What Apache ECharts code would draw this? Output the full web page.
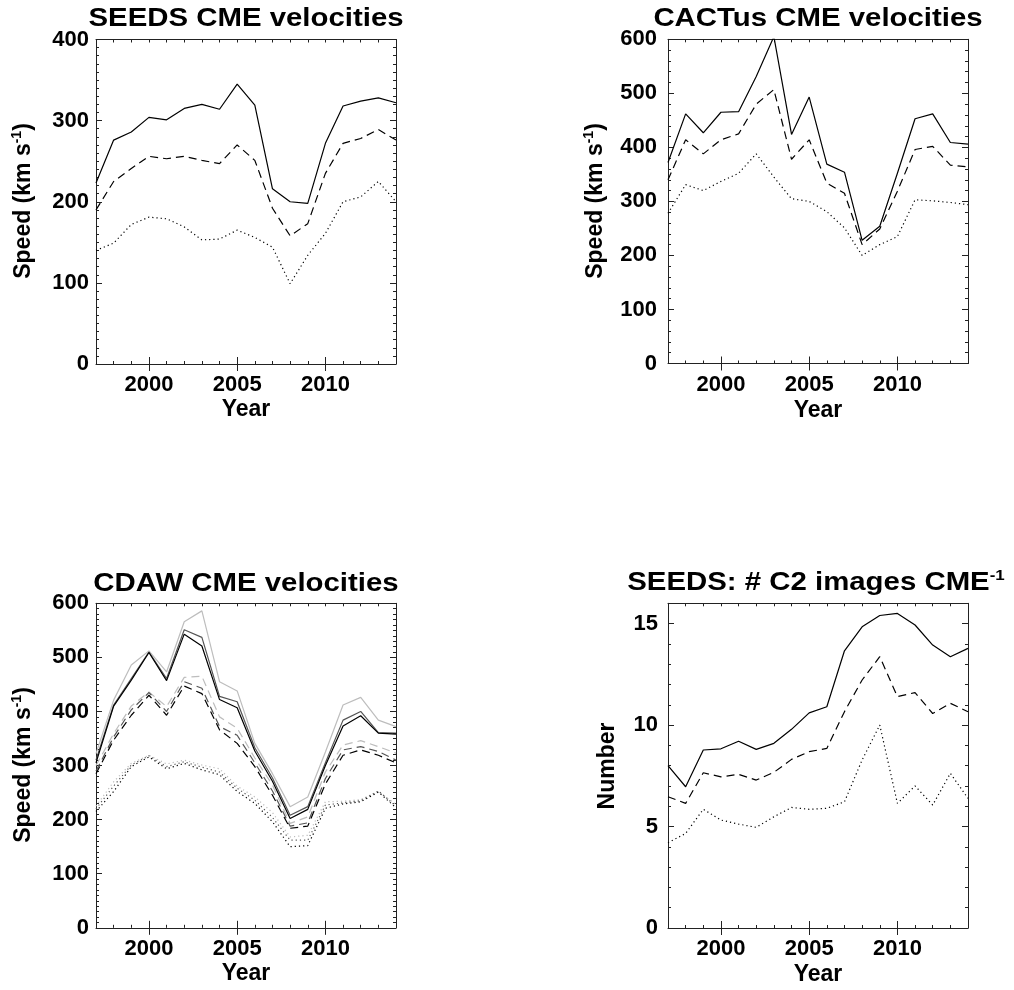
<!DOCTYPE html>
<html>
<head>
<meta charset="utf-8">
<script src="https://cdn.jsdelivr.net/npm/echarts@6/dist/echarts.min.js"></script>
<style>
html,body{margin:0;padding:0;background:#fff;}
#chart{width:1014px;height:990px;}
</style>
</head>
<body>
<div id="chart"></div>
<script>
// ---------------- data ----------------
var years = [1997,1998,1999,2000,2001,2002,2003,2004,2005,2006,2007,2008,2009,2010,2011,2012,2013,2014];
var xTickLabels = [2000,2005,2010];

// SEEDS CME velocities
var seedsSolid  = [223,276,286,304,301,315,320,314,345,319,216,200,198,272,318,324,328,322];
var seedsDashed = [190,225,241,256,253,256,251,247,270,251,192,158,173,235,272,278,289,276];
var seedsDotted = [140,149,172,181,179,169,153,154,165,156,144,99,134,161,200,206,225,200];

// CACTus CME velocities
var cactusSolid  = [372,462,427,465,466,531,605,424,493,369,354,228,254,352,453,462,409,406];
var cactusDashed = [340,414,388,414,425,480,507,378,414,334,315,220,249,319,396,402,367,364];
var cactusDotted = [278,331,320,337,352,388,345,305,300,281,251,200,220,235,303,301,298,294];

// CDAW CME velocities (light grey, dark grey, black versions)
var cdawSolidLight  = [322,421,486,512,473,566,586,455,438,341,285,224,242,325,412,426,384,372];
var cdawSolidDark   = [310,412,461,510,461,551,537,428,418,333,277,208,224,305,384,400,361,360];
var cdawSolidBlack  = [305,410,458,509,457,543,521,422,407,327,271,202,219,300,373,392,360,358];
var cdawDashedLight = [300,359,410,436,409,463,465,390,369,314,264,193,205,288,338,346,335,323];
var cdawDashedDark  = [290,353,403,435,400,455,443,372,356,305,253,188,194,276,329,335,326,310];
var cdawDashedBlack = [285,347,393,430,393,447,433,366,341,298,245,184,188,266,319,329,319,305];
var cdawDottedLight = [225,270,304,319,303,310,301,294,262,242,213,168,171,233,234,237,252,228];
var cdawDottedDark  = [220,262,301,318,298,307,297,288,258,236,204,162,162,227,231,235,253,225];
var cdawDottedBlack = [215,252,298,316,294,304,292,283,252,230,196,150,152,221,229,233,251,222];

// SEEDS: number of C2 images per CME
var imgSolid  = [8.0,6.96,8.77,8.83,9.2,8.8,9.1,9.79,10.6,10.9,13.66,14.84,15.4,15.5,14.93,13.94,13.37,13.78];
var imgDashed = [6.47,6.14,7.65,7.45,7.57,7.29,7.67,8.31,8.69,8.85,10.66,12.22,13.37,11.4,11.6,10.57,11.07,10.66];
var imgDotted = [4.2,4.66,5.85,5.32,5.12,4.96,5.48,5.94,5.85,5.9,6.22,8.28,10.0,6.14,7.0,6.06,7.62,6.39];

var speedTicks400 = [0,100,200,300,400];
var speedTicks600 = [0,100,200,300,400,500,600];
var numberTicks = [0,5,10,15];

// ---------------- layout / styles ----------------
var FONT = 'Liberation Sans, Arial, Helvetica, sans-serif';
var AX = '#222';
var grids = [
  {left:96,  top:39.5, width:300, height:324.5},
  {left:668, top:39.3, width:300, height:324.2},
  {left:96,  top:603.3,width:300, height:324.5},
  {left:668, top:603.3,width:300, height:324.7}
];
var panelY = [
  {max:400, minor:10, majors:speedTicks400, margin:7},
  {max:600, minor:20, majors:speedTicks600, margin:11},
  {max:600, minor:10, majors:speedTicks600, margin:7},
  {max:16,  minor:1,  majors:numberTicks,   margin:10}
];

var xAxes = [], yAxes = [];
panelY.forEach(function(p, g){
  var xBase = {gridIndex:g, type:'value', min:1997, max:2014, interval:1,
    splitLine:{show:false}, axisLine:{show:true, onZero:false, lineStyle:{color:AX, width:1}}};
  // bottom minor + labels
  xAxes.push(Object.assign({}, xBase, {position:'bottom',
    axisTick:{show:true, inside:true, length:3, lineStyle:{color:AX}},
    axisLabel:{show:true, customValues:xTickLabels, margin:10, color:'#000', fontSize:22, fontWeight:'bold', fontFamily:FONT,
      formatter:function(v){ return v % 5 === 0 ? String(v) : ''; }}}));
  // bottom majors
  xAxes.push(Object.assign({}, xBase, {position:'bottom', axisLine:{show:false},
    axisTick:{show:true, inside:true, length:7, customValues:xTickLabels, lineStyle:{color:AX}},
    axisLabel:{show:false}}));
  // top minor
  xAxes.push(Object.assign({}, xBase, {position:'top',
    axisTick:{show:true, inside:true, length:3, lineStyle:{color:AX}}, axisLabel:{show:false}}));
  // top majors
  xAxes.push(Object.assign({}, xBase, {position:'top', axisLine:{show:false},
    axisTick:{show:true, inside:true, length:7, customValues:xTickLabels, lineStyle:{color:AX}},
    axisLabel:{show:false}}));

  var majorStep = p.majors[1] - p.majors[0];
  var yBase = {gridIndex:g, type:'value', min:0, max:p.max, interval:p.minor,
    splitLine:{show:false}, axisLine:{show:true, onZero:false, lineStyle:{color:AX, width:1}}};
  yAxes.push(Object.assign({}, yBase, {position:'left',
    axisTick:{show:true, inside:true, length:3, lineStyle:{color:AX}},
    axisLabel:{show:true, customValues:p.majors, margin:p.margin, color:'#000', fontSize:22, fontWeight:'bold', fontFamily:FONT,
      formatter:function(v){ return (v % majorStep === 0 && v <= p.majors[p.majors.length-1]) ? String(v) : ''; }}}));
  yAxes.push(Object.assign({}, yBase, {position:'left', axisLine:{show:false},
    axisTick:{show:true, inside:true, length:6, customValues:p.majors, lineStyle:{color:AX}},
    axisLabel:{show:false}}));
  yAxes.push(Object.assign({}, yBase, {position:'right',
    axisTick:{show:true, inside:true, length:3, lineStyle:{color:AX}}, axisLabel:{show:false}}));
  yAxes.push(Object.assign({}, yBase, {position:'right', axisLine:{show:false},
    axisTick:{show:true, inside:true, length:6, customValues:p.majors, lineStyle:{color:AX}},
    axisLabel:{show:false}}));
});

function pts(vals){ return years.map(function(y,i){ return [y, vals[i]]; }); }
var DASH = [8,5], DOT = [1.2,3];
function line(g, vals, color, type){
  return {type:'line', xAxisIndex:g*4, yAxisIndex:g*4, data:pts(vals), symbol:'none', showSymbol:false,
    clip:true, silent:true, lineStyle:{color:color, width:1.2, type:type}};
}
var LIGHT = '#bdbdbd', DARK = '#555555', BLACK = '#000000';
var series = [
  line(0, seedsSolid, BLACK, 'solid'), line(0, seedsDashed, BLACK, DASH), line(0, seedsDotted, BLACK, DOT),
  line(1, cactusSolid, BLACK, 'solid'), line(1, cactusDashed, BLACK, DASH), line(1, cactusDotted, BLACK, DOT),
  line(2, cdawSolidLight, LIGHT, 'solid'), line(2, cdawDashedLight, LIGHT, DASH), line(2, cdawDottedLight, LIGHT, DOT),
  line(2, cdawSolidDark, DARK, 'solid'), line(2, cdawDashedDark, DARK, DASH), line(2, cdawDottedDark, DARK, DOT),
  line(2, cdawSolidBlack, BLACK, 'solid'), line(2, cdawDashedBlack, BLACK, DASH), line(2, cdawDottedBlack, BLACK, DOT),
  line(3, imgSolid, BLACK, 'solid'), line(3, imgDashed, BLACK, DASH), line(3, imgDotted, BLACK, DOT)
];

// ---------------- texts ----------------
var rich = {
  n:{fontSize:26, fontWeight:'bold', fontFamily:FONT, color:'#000', lineHeight:30},
  s:{fontSize:15, fontWeight:'bold', fontFamily:FONT, color:'#000', lineHeight:15, verticalAlign:'top'},
  a:{fontSize:23, fontWeight:'bold', fontFamily:FONT, color:'#000', lineHeight:27},
  b:{fontSize:14, fontWeight:'bold', fontFamily:FONT, color:'#000', lineHeight:14, verticalAlign:'top'}
};
function txt(x, y, text, opts){
  opts = opts || {};
  return {type:'text', x:x, y:y, rotation:opts.rot || 0, scaleX:opts.sx || 1, silent:true,
    style:{text:text, rich:rich, textAlign:'center', textVerticalAlign:'middle', align:'center', verticalAlign:'middle'}};
}
var titles = [
  txt(246, 19, '{n|SEEDS CME velocities}', {sx:1.13}),
  txt(818, 19, '{n|CACTus CME velocities}', {sx:1.13}),
  txt(246, 584, '{n|CDAW CME velocities}', {sx:1.13}),
  txt(816, 583, '{n|SEEDS: # C2 images CME}{s|-1}', {sx:1.13}),
  txt(246, 410, '{a|Year}'),
  txt(818, 411, '{a|Year}'),
  txt(246, 974, '{a|Year}'),
  txt(818, 975, '{a|Year}'),
  txt(24, 201, '{a|Speed (km s}{b|-1}{a|)}', {rot:Math.PI/2}),
  txt(596, 201, '{a|Speed (km s}{b|-1}{a|)}', {rot:Math.PI/2}),
  txt(24, 765, '{a|Speed (km s}{b|-1}{a|)}', {rot:Math.PI/2}),
  txt(608, 766, '{a|Number}', {rot:Math.PI/2})
];

var chart = echarts.init(document.getElementById('chart'), null, {renderer:'canvas'});
chart.setOption({
  backgroundColor:'#ffffff',
  animation:false,
  grid:grids,
  xAxis:xAxes,
  yAxis:yAxes,
  series:series,
  graphic:titles
});
</script>
</body>
</html>
